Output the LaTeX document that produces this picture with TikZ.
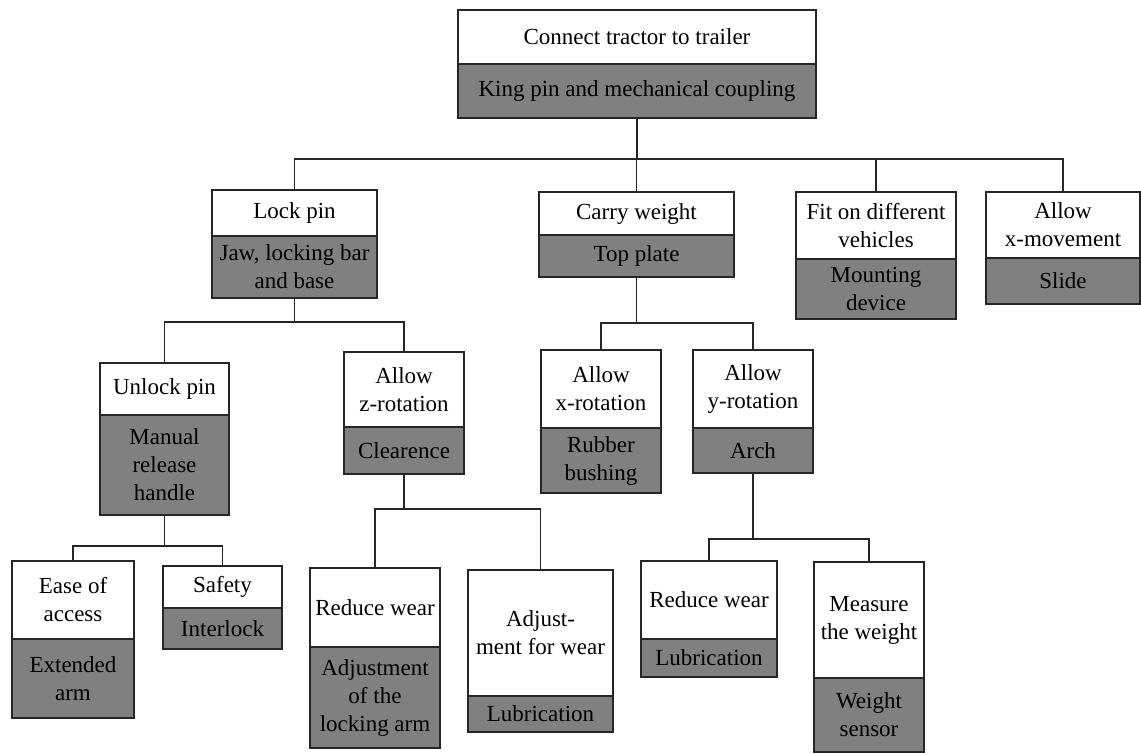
\documentclass[tikz,border=0pt]{standalone}
\usepackage{fontspec}
\setmainfont{Liberation Serif}
\definecolor{linec}{RGB}{38,38,38}
\definecolor{meanfill}{RGB}{128,128,128}
\newcommand\boxfont{\fontsize{23}{28}\selectfont}
\tikzset{
  fun/.style={draw=linec, fill=white, line width=1.5pt, inner sep=0pt, outer sep=0pt,
    align=center, anchor=north west, font=\boxfont, text=black},
  mean/.style={fun, fill=meanfill},
  link/.style={draw=linec, line width=1.5pt}
}
\begin{document}
\begin{tikzpicture}[x=1pt,y=-1pt]
\useasboundingbox (0,0) rectangle (1141,753);

% level 0
\node[fun, minimum width=358pt, minimum height=54pt] (top-f) at (458,10) {Connect tractor to trailer};
\node[mean, minimum width=358pt, minimum height=54pt] (top-m) at (458,64) {King pin and mechanical coupling};

% level 1
\node[fun, minimum width=165pt, minimum height=46pt] (lock-f) at (212,190) {Lock pin};
\node[mean, minimum width=165pt, minimum height=62pt] (lock-m) at (212,236) {Jaw, locking bar\\and base};

\node[fun, minimum width=195pt, minimum height=43pt] (carry-f) at (539,192) {Carry weight};
\node[mean, minimum width=195pt, minimum height=42pt] (carry-m) at (539,235) {Top plate};

\node[fun, minimum width=160pt, minimum height=67pt] (fit-f) at (796,192) {Fit on different\\vehicles};
\node[mean, minimum width=160pt, minimum height=60pt] (fit-m) at (796,259) {Mounting\\device};

\node[fun, minimum width=154pt, minimum height=66pt] (xmov-f) at (986,192) {Allow\\x-movement};
\node[mean, minimum width=154pt, minimum height=46pt] (xmov-m) at (986,258) {Slide};

% level 2
\node[fun, minimum width=129pt, minimum height=52pt] (unlock-f) at (100,363) {Unlock pin};
\node[mean, minimum width=129pt, minimum height=100pt] (unlock-m) at (100,415) {Manual\\release\\handle};

\node[fun, minimum width=120pt, minimum height=75pt] (zrot-f) at (344,352) {Allow\\z-rotation};
\node[mean, minimum width=120pt, minimum height=47pt] (zrot-m) at (344,427) {Clearence};

\node[fun, minimum width=120pt, minimum height=78pt] (xrot-f) at (541,350) {Allow\\x-rotation};
\node[mean, minimum width=120pt, minimum height=65pt] (xrot-m) at (541,428) {Rubber\\bushing};

\node[fun, minimum width=120pt, minimum height=78pt] (yrot-f) at (693,350) {Allow\\y-rotation};
\node[mean, minimum width=120pt, minimum height=45pt] (yrot-m) at (693,428) {Arch};

% level 3
\node[fun, minimum width=122pt, minimum height=78pt] (ease-f) at (12,561) {Ease of\\access};
\node[mean, minimum width=122pt, minimum height=79pt] (ease-m) at (12,639) {Extended\\arm};

\node[fun, minimum width=119pt, minimum height=42pt] (safe-f) at (163,566) {Safety};
\node[mean, minimum width=119pt, minimum height=41pt] (safe-m) at (163,608) {Interlock};

\node[fun, minimum width=130pt, minimum height=79pt] (wearA-f) at (310,568) {Reduce wear};
\node[mean, minimum width=130pt, minimum height=101pt] (wearA-m) at (310,647) {Adjustment\\of the\\locking arm};

\node[fun, minimum width=145pt, minimum height=126pt] (adj-f) at (468,570) {Adjust-\\ment for wear};
\node[mean, minimum width=145pt, minimum height=36pt] (adj-m) at (468,696) {Lubrication};

\node[fun, minimum width=136pt, minimum height=78pt] (wearB-f) at (641,561) {Reduce wear};
\node[mean, minimum width=136pt, minimum height=38pt] (wearB-m) at (641,639) {Lubrication};

\node[fun, minimum width=110pt, minimum height=116pt] (meas-f) at (814,562) {Measure\\the weight};
\node[mean, minimum width=110pt, minimum height=74pt] (meas-m) at (814,678) {Weight\\sensor};

% branch points of the tree, straight below each parent
\coordinate (b0) at (top-m.south |- 0,159);
\coordinate (b1) at (lock-m.south |- 0,322);
\coordinate (b2) at (carry-m.south |- 0,323);
\coordinate (b3) at (unlock-m.south |- 0,546);
\coordinate (b4) at (zrot-m.south |- 0,509);
\coordinate (b5) at (yrot-m.south |- 0,539);

\draw[link] (top-m.south) -- (b0);
\foreach \c in {lock,carry,fit,xmov} \draw[link] (\c-f.north) |- (b0);

\draw[link] (lock-m.south) -- (b1);
\foreach \c in {unlock,zrot} \draw[link] (\c-f.north) |- (b1);

\draw[link] (carry-m.south) -- (b2);
\foreach \c in {xrot,yrot} \draw[link] (\c-f.north) |- (b2);

\draw[link] (unlock-m.south) -- (b3);
\foreach \c in {ease,safe} \draw[link] (\c-f.north) |- (b3);

\draw[link] (zrot-m.south) -- (b4);
\foreach \c in {wearA,adj} \draw[link] (\c-f.north) |- (b4);

\draw[link] (yrot-m.south) -- (b5);
\foreach \c in {wearB,meas} \draw[link] (\c-f.north) |- (b5);
\end{tikzpicture}
\end{document}
